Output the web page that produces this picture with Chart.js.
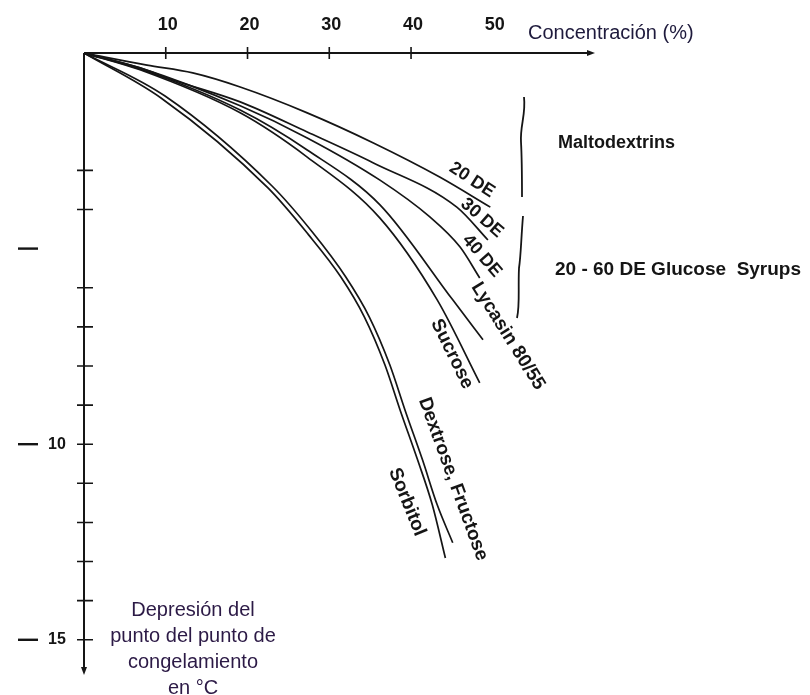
<!DOCTYPE html>
<html>
<head>
<meta charset="utf-8">
<script src="https://cdn.jsdelivr.net/npm/chart.js@4"></script>
<style>
  body { margin: 0; background: #fff; }
  canvas { display: block; }
</style>
</head>
<body>
<canvas id="chart" width="810" height="695"></canvas>
<script>
// concentración (%) -> depresión del punto de congelamiento (°C)
const de20X = [0, 7.7, 13.3, 19.1, 27.3, 35.4, 43.5, 49.7];
const de20Y = [0, 0.31, 0.51, 0.87, 1.53, 2.30, 3.17, 3.94];

const de30X = [0, 6.85, 10.9, 19.1, 27.3, 35.4, 45.6, 49.4];
const de30Y = [0, 0.38, 0.69, 1.25, 2.02, 2.81, 3.94, 4.78];

const de40X = [0, 6.85, 19.1, 27.3, 36.2, 42.3, 46.0, 48.4];
const de40Y = [0, 0.38, 1.35, 2.17, 3.25, 4.19, 4.96, 5.75];

const lycasinX = [0, 6.85, 19.1, 27.3, 36.2, 45.1, 48.8];
const lycasinY = [0, 0.41, 1.46, 2.48, 3.88, 6.31, 7.33];

const sucroseX = [0, 6.85, 19.1, 27.3, 36.2, 43.2, 48.4];
const sucroseY = [0, 0.43, 1.53, 2.66, 4.22, 6.31, 8.43];

const dextroseX = [0, 9.91, 23.0, 27.9, 32.0, 34.9, 37.4, 39.3, 41.4, 43.2, 45.1];
const dextroseY = [0, 1.10, 3.40, 4.57, 5.72, 6.75, 7.97, 9.15, 10.40, 11.55, 12.52];

const sorbitolX = [0, 9.42, 22.5, 27.4, 31.4, 34.3, 36.8, 38.7, 40.8, 42.6, 44.2];
const sorbitolY = [0, 1.15, 3.45, 4.63, 5.72, 6.75, 7.97, 9.15, 10.40, 11.55, 12.91];

const xLabelValues = [10, 20, 30, 40, 50];
const xTickMarks = [10, 20, 30, 40];
const yTickMarks = [3, 4, 6, 7, 8, 9, 10, 11, 12, 13, 14, 15];
const yLabelValues = [5, 10, 15];
const yLabelTexts = ['', '10', '15'];

const pts = (xs, ys) => xs.map((v, i) => ({ x: v, y: ys[i] }));
const FONT = '"Liberation Sans", Arial, sans-serif';
const INK = '#151515';

const serie = (data) => ({
    data: data,
    borderColor: INK,
    borderWidth: 1.7,
    pointRadius: 0,
    fill: false,
    cubicInterpolationMode: 'monotone'
});

const rotText = (ctx, txt, cx, cy, deg, font) => {
    ctx.save();
    ctx.translate(cx, cy);
    ctx.rotate(deg * Math.PI / 180);
    ctx.font = font;
    ctx.textAlign = 'center';
    ctx.textBaseline = 'middle';
    ctx.fillText(txt, 0, 0);
    ctx.restore();
};

const ejes = {
    id: 'ejes',
    beforeDatasetsDraw(chart) {
        const { ctx, chartArea: a, scales: { x, y } } = chart;
        const x0 = x.getPixelForValue(0);
        const y0 = y.getPixelForValue(0);
        ctx.save();
        ctx.strokeStyle = INK;
        ctx.fillStyle = INK;
        ctx.lineWidth = 2;
        ctx.beginPath();
        ctx.moveTo(x0, y0); ctx.lineTo(a.right - 6, y0);
        ctx.moveTo(x0, y0); ctx.lineTo(x0, a.bottom - 6);
        ctx.stroke();
        // flechas
        ctx.beginPath();
        ctx.moveTo(a.right, y0); ctx.lineTo(a.right - 8, y0 - 3); ctx.lineTo(a.right - 8, y0 + 3);
        ctx.fill();
        ctx.beginPath();
        ctx.moveTo(x0, a.bottom); ctx.lineTo(x0 - 3, a.bottom - 8); ctx.lineTo(x0 + 3, a.bottom - 8);
        ctx.fill();
        // marcas
        ctx.lineWidth = 1.6;
        ctx.beginPath();
        xTickMarks.forEach(v => {
            const p = x.getPixelForValue(v);
            ctx.moveTo(p, y0 - 6); ctx.lineTo(p, y0 + 6);
        });
        yTickMarks.forEach(v => {
            const p = y.getPixelForValue(v);
            ctx.moveTo(x0 - 7, p); ctx.lineTo(x0 + 9, p);
        });
        ctx.stroke();
        // etiquetas de los ejes
        ctx.font = 'bold 18px ' + FONT;
        ctx.textAlign = 'center';
        ctx.textBaseline = 'middle';
        xLabelValues.forEach(v => ctx.fillText(String(v), x.getPixelForValue(v) + 2, y0 - 28));
        ctx.lineWidth = 2.4;
        yLabelValues.forEach((v, i) => {
            const p = y.getPixelForValue(v);
            ctx.beginPath();
            ctx.moveTo(x0 - 66, p); ctx.lineTo(x0 - 46, p);
            ctx.stroke();
            ctx.textAlign = 'left';
            ctx.font = 'bold 16px ' + FONT;
            ctx.fillText(yLabelTexts[i], x0 - 36, p);
        });
        ctx.restore();
    },
    afterDatasetsDraw(chart) {
        const { ctx } = chart;
        ctx.save();
        ctx.fillStyle = INK;
        const f = 'bold 18px ' + FONT;
        const g = 'bold 19px ' + FONT;
        rotText(ctx, '20 DE', 472, 180, 33, f);
        rotText(ctx, '30 DE', 482, 218, 41, f);
        rotText(ctx, '40 DE', 482, 256, 49, f);
        rotText(ctx, 'Lycasin 80/55', 508, 336, 58, g);
        rotText(ctx, 'Sucrose', 452, 354, 64, g);
        rotText(ctx, 'Dextrose, Fructose', 453, 479, 70, g);
        rotText(ctx, 'Sorbitol', 407, 502, 68, g);

        ctx.textAlign = 'left';
        ctx.textBaseline = 'middle';
        ctx.font = 'bold 18px ' + FONT;
        ctx.fillText('Maltodextrins', 558, 143);
        ctx.font = 'bold 19px ' + FONT;
        ctx.fillText('20 - 60 DE Glucose  Syrups', 555, 270);

        // llaves
        ctx.strokeStyle = INK;
        ctx.lineWidth = 1.8;
        ctx.beginPath();
        ctx.moveTo(524, 97);
        ctx.bezierCurveTo(526, 115, 520, 125, 521, 142);
        ctx.bezierCurveTo(522, 160, 522, 180, 522, 197);
        ctx.moveTo(523, 216);
        ctx.bezierCurveTo(521, 240, 521, 255, 519, 268);
        ctx.bezierCurveTo(518, 290, 520, 305, 517, 318);
        ctx.stroke();

        // títulos
        ctx.fillStyle = '#1e1a3c';
        ctx.font = '20px ' + FONT;
        ctx.textAlign = 'left';
        ctx.fillText('Concentración (%)', 528, 33);
        ctx.fillStyle = '#2c1a46';
        ctx.textAlign = 'center';
        ['Depresión del', 'punto del punto de', 'congelamiento', 'en °C'].forEach((t, i) => {
            ctx.fillText(t, 193, 610 + i * 26);
        });
        ctx.restore();
    }
};

new Chart(document.getElementById('chart'), {
    type: 'line',
    data: {
        datasets: [
            serie(pts(de20X, de20Y)),
            serie(pts(de30X, de30Y)),
            serie(pts(de40X, de40Y)),
            serie(pts(lycasinX, lycasinY)),
            serie(pts(sucroseX, sucroseY)),
            serie(pts(dextroseX, dextroseY)),
            serie(pts(sorbitolX, sorbitolY))
        ]
    },
    options: {
        responsive: false,
        animation: false,
        events: [],
        layout: { padding: { left: 84, top: 53, right: 215, bottom: 20 } },
        plugins: { legend: { display: false }, tooltip: { enabled: false } },
        scales: {
            x: { type: 'linear', min: 0, max: 62.5, display: false },
            y: { type: 'linear', min: 0, max: 15.9, reverse: true, display: false }
        }
    },
    plugins: [ejes]
});
</script>
</body>
</html>
